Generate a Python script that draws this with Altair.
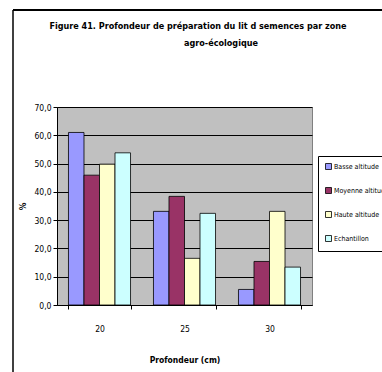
import altair as alt
import pandas as pd

# Seedbed preparation depth by agro-ecological zone (% of respondents)
depths = ["20", "25", "30"]
zones = ["Basse altitude", "Moyenne altitude", "Haute altitude", "Echantillon"]
basse = [61.0, 33.1, 5.5]
moyenne = [45.9, 38.4, 15.4]
haute = [49.8, 16.5, 33.1]
echantillon = [53.8, 32.4, 13.4]
colors = ["#9999FF", "#993366", "#FFFFCC", "#CCFFFF"]

rows = []
for zone, values in zip(zones, [basse, moyenne, haute, echantillon]):
    for depth, v in zip(depths, values):
        rows.append({"Profondeur": depth, "Zone": zone, "Pct": v})
df = pd.DataFrame(rows)

FONT = "DejaVu Sans Condensed, Liberation Sans, sans-serif"

bars = alt.Chart(df).mark_bar(stroke="black", strokeWidth=0.8).encode(
    x=alt.X(
        "Profondeur:N",
        sort=depths,
        scale=alt.Scale(paddingInner=0.27, paddingOuter=0.135),
        axis=alt.Axis(
            title="Profondeur (cm)",
            labelAngle=0,
            tickBand="extent",
            tickSize=4,
            labelPadding=15,
            titlePadding=23,
            grid=False,
        ),
    ),
    xOffset=alt.XOffset("Zone:N", sort=zones, scale=alt.Scale(paddingInner=0, paddingOuter=0)),
    y=alt.Y(
        "Pct:Q",
        scale=alt.Scale(domain=[0, 70], nice=False),
        axis=alt.Axis(
            title="%",
            values=[0, 10, 20, 30, 40, 50, 60, 70],
            labelExpr="replace(format(datum.value, '.1f'), '.', ',')",
            tickSize=4,
            labelPadding=2,
            titlePadding=6,
            grid=True,
            gridColor="black",
            gridWidth=1,
        ),
    ),
    color=alt.Color(
        "Zone:N",
        sort=zones,
        scale=alt.Scale(domain=zones, range=colors),
        legend=alt.Legend(
            title=None,
            orient="none",
            legendX=261,
            legendY=49,
            strokeColor="black",
            fillColor="white",
            padding=7,
            rowPadding=13,
            symbolType="square",
            symbolSize=36,
            symbolStrokeColor="black",
            symbolStrokeWidth=0.8,
            labelOffset=2,
            labelFont=FONT,
            labelFontSize=7,
            labelColor="black",
            labelLimit=0,
        ),
    ),
)

one = pd.DataFrame({"k": [0]})

# outer chart frame
frame_left = alt.Chart(one).mark_rule(color="black", strokeWidth=1.5).encode(
    x=alt.value(-44), y=alt.value(-97), y2=alt.value(300)
)
frame_top = alt.Chart(one).mark_rule(color="black", strokeWidth=2).encode(
    x=alt.value(-44), x2=alt.value(400), y=alt.value(-97)
)

title_1 = alt.Chart(one).mark_text(
    font=FONT, fontSize=9, fontWeight="bold", color="black", align="center", baseline="middle"
).encode(x=alt.value(141), y=alt.value(-81), text=alt.value("Figure 41. Profondeur de préparation du lit d semences par zone"))
title_2 = alt.Chart(one).mark_text(
    font=FONT, fontSize=9, fontWeight="bold", color="black", align="center", baseline="middle"
).encode(x=alt.value(164), y=alt.value(-64), text=alt.value("agro-écologique"))

chart = alt.layer(bars, frame_left, frame_top, title_1, title_2).properties(
    width=255,
    height=198,
    autosize=alt.AutoSizeParams(type="none"),
    padding={"left": 57, "top": 107, "right": 70, "bottom": 67},
    background="white",
).configure_view(
    fill="#C0C0C0", stroke="#808080", strokeWidth=1
).configure_axis(
    labelFont=FONT,
    labelFontSize=8.5,
    labelColor="black",
    titleFont=FONT,
    titleFontSize=8.5,
    titleFontWeight="bold",
    titleColor="black",
    domainColor="black",
    domainWidth=1,
    tickColor="black",
    tickWidth=1,
)

chart.save("out.html", embed_options={"renderer": "svg", "actions": False})
